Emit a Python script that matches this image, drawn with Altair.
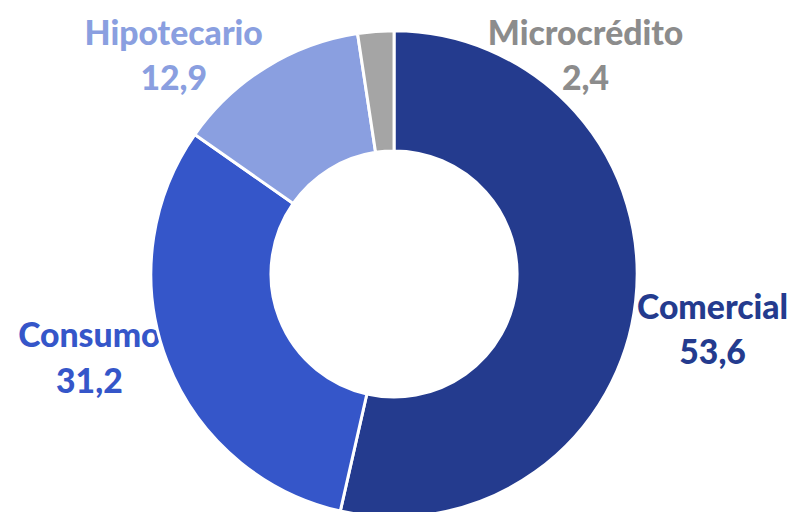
import altair as alt
import pandas as pd

categories = ["Comercial", "Consumo", "Hipotecario", "Microcrédito"]
values = [53.6, 31.2, 12.9, 2.4]
value_labels = ["53,6", "31,2", "12,9", "2,4"]

colors = ["#243B8E", "#3556C9", "#8A9FE0", "#A5A5A5"]
label_colors = ["#243B8E", "#3556C9", "#8A9FE0", "#8C8C8C"]
# label anchor positions (plot coordinates, first-line baseline)
label_x = [710, 82, 167, 582]
label_y = [311, 340, 35, 35]

df = pd.DataFrame({
    "cat": categories,
    "val": values,
    "order": list(range(len(categories))),
})

lab = pd.DataFrame({
    "cat": categories,
    "txt": [f"{c}\n{v}" for c, v in zip(categories, value_labels)],
    "lx": label_x,
    "ly": label_y,
})

arc = alt.Chart(df).mark_arc(
    outerRadius=245, innerRadius=124, stroke="white", strokeWidth=3
).encode(
    theta=alt.Theta("val:Q", stack=True),
    order=alt.Order("order:Q"),
    color=alt.Color("cat:N", scale=alt.Scale(domain=categories, range=colors), legend=None),
    x=alt.value(389),
    y=alt.value(266),
)

text = alt.Chart(lab).mark_text(
    font="Lato", fontWeight=900, fontSize=34, align="center",
    baseline="alphabetic", lineBreak="\n", lineHeight=46,
).encode(
    x=alt.X("lx:Q", scale=None),
    y=alt.Y("ly:Q", scale=None),
    text="txt:N",
    color=alt.Color("cat:N", scale=alt.Scale(domain=categories, range=label_colors), legend=None),
)

chart = alt.layer(text, arc).resolve_scale(color="independent").properties(
    width=781, height=496, padding=0
).configure_view(stroke=None)

chart.save("out.html", embed_options={"renderer": "svg", "actions": False})
